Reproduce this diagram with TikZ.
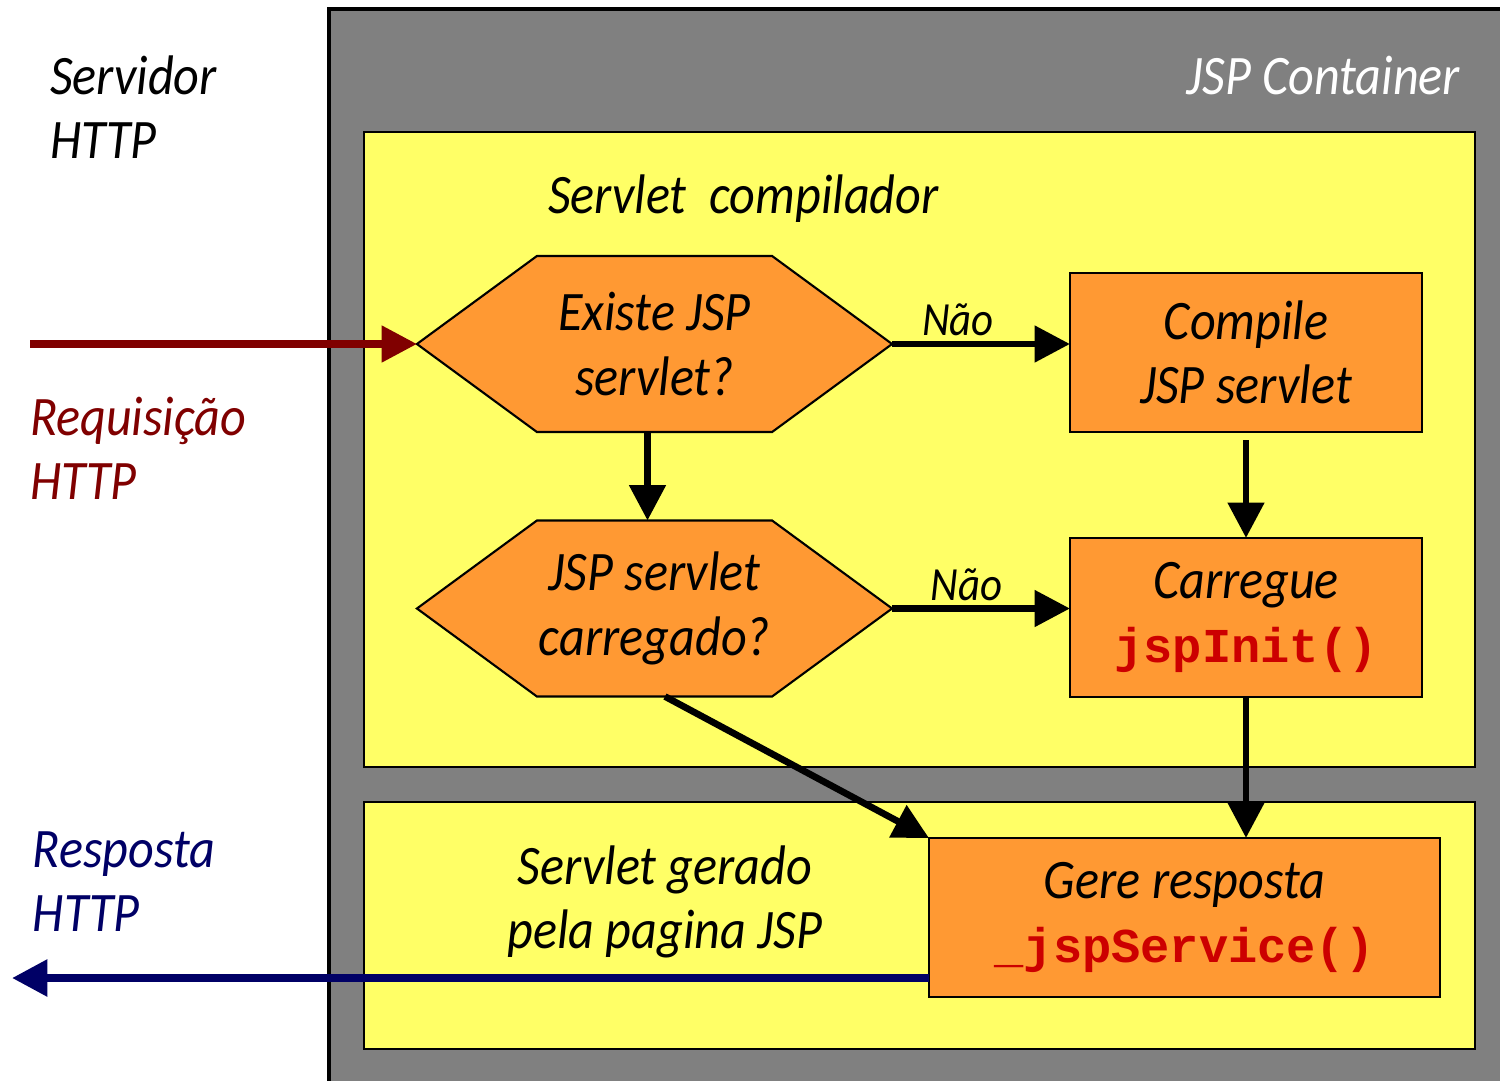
\documentclass[tikz,border=0pt]{standalone}
\usepackage{fontspec}
\setmainfont{Carlito}[FakeStretch=0.9]
\setmonofont{Liberation Mono}
\usetikzlibrary{arrows.meta,calc}

\definecolor{containergray}{HTML}{808080}
\definecolor{paneyellow}{HTML}{FFFF66}
\definecolor{steporange}{HTML}{FF9933}
\definecolor{codered}{HTML}{CC0000}
\definecolor{reqred}{HTML}{800000}
\definecolor{respnavy}{HTML}{000066}

\pgfdeclarelayer{back}
\pgfdeclarelayer{shapes}
\pgfsetlayers{back,shapes,main}

% hexagonal decision outline around a rectangular node
\newcommand\hexoutline[1]{%
  \begin{pgfonlayer}{shapes}
    \draw[hexline] (#1.west) -- ($(#1.north west)+(120,0)$) -- ($(#1.north east)+(-120,0)$)
      -- (#1.east) -- ($(#1.south east)+(-120,0)$) -- ($(#1.south west)+(120,0)$) -- cycle;
  \end{pgfonlayer}}

\newcommand\code[1]{{\fontsize{13.8}{17}\selectfont\ttfamily\bfseries\upshape\color{codered}#1}}

\begin{document}
\begin{tikzpicture}[x=0.2835pt,y=-0.2835pt,
  every node/.style={inner sep=0pt, outer sep=0pt},
  txt/.style={font=\fontsize{15.8}{18.2}\selectfont\itshape, align=center},
  sidetxt/.style={font=\fontsize{15.8}{18.2}\selectfont\itshape, align=left, anchor=west},
  hexnode/.style={txt, minimum width=134.7pt, minimum height=49.9pt},
  hexline/.style={draw=black, line width=0.6pt, fill=steporange},
  stepbox/.style={txt, draw=black, line width=0.6pt, fill=steporange,
    minimum width=99.8pt, minimum height=45.1pt},
  pane/.style={draw=black, line width=0.6pt, fill=paneyellow},
  flow/.style={draw=black, line width=1.9pt, -{Triangle[length=10pt,width=10pt]}},
  nolabel/.style={font=\fontsize{13.5}{16}\selectfont\itshape},
]
\useasboundingbox (0,0) rectangle (1500,1080);
\clip (0,0) rectangle (1500,1080);

% container and panes
\begin{pgfonlayer}{back}
  \fill[white] (0,0) rectangle (1500,1080);
  \draw[fill=containergray, line width=0.9pt] (329,9) rectangle (1520,1100);
  \draw[pane] (364,132) rectangle (1475,767);
  \draw[pane] (364,802) rectangle (1475,1049);
\end{pgfonlayer}

% headings
\node[sidetxt] (server) at (50,107) {Servidor\\HTTP};
\node[txt, anchor=east, text=white] (container) at (1460,76) {JSP Container};
\node[txt, anchor=west] (compiler) at (548,199) {Servlet\ \ compilador};
\node[txt] (generated) at (665,902) {Servlet gerado\\pela pagina JSP};
\node[sidetxt, text=reqred] (request) at (30,448) {Requisição\\HTTP};
\node[sidetxt, text=respnavy] (response) at (33,882) {Resposta\\HTTP};

% decisions
\node[hexnode] (exists) at (654.5,344) {Existe JSP\\servlet?};
\hexoutline{exists}
\node[hexnode] (loaded) at (654.5,608.5) {JSP servlet\\carregado?};
\hexoutline{loaded}

% actions
\node[stepbox] (compile) at (1246,352.5) {Compile\\JSP servlet};
\node[stepbox] (load) at (1246,617.5) {Carregue\\\code{jspInit()}};
\node[stepbox, minimum width=144.9pt] (serve) at (1184.5,917.5) {Gere resposta\\\code{\_jspService()}};

% flow
\coordinate (reqstart) at (30,344);
\coordinate (respend) at (12,978);
\draw[line width=2pt, reqred, -{Triangle[length=10pt,width=10pt]}] (reqstart) -- (exists.west);
\draw[flow] (exists.east) -- (exists.east -| compile.west)
  node[nolabel, pos=0.37, yshift=6.8pt] (no1) {Não};
\draw[flow] (loaded.east) -- (loaded.east -| load.west)
  node[nolabel, pos=0.42, yshift=6.8pt] (no2) {Não};
\draw[flow] ($(exists.south)+(-7,0)$) -- ($(loaded.north)+(-7,0)$);
\draw[flow] ($(compile.south)+(0,8)$) -- (load.north);
\draw[flow] (load.south) -- (load.south |- serve.north);
\draw[flow] ($(loaded.south)+(10.5,0)$) -- (serve.north west);
\draw[line width=2.2pt, respnavy, -{Triangle[length=10pt,width=10pt]}]
  ($(serve.south west)+(0,-19)$) -- (respend);
\end{tikzpicture}
\end{document}
